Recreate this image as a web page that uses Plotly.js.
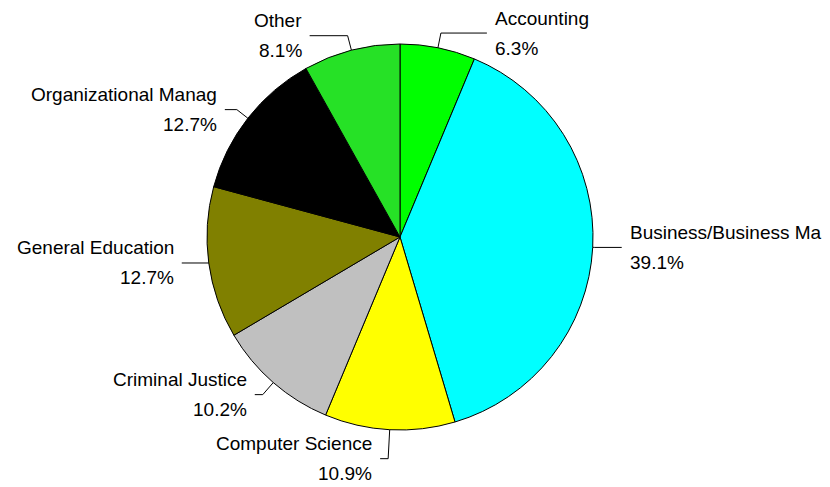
<!DOCTYPE html>
<html>
<head>
<meta charset="utf-8">
<script src="https://cdn.plot.ly/plotly-3.0.1.min.js"></script>
<style>html,body{margin:0;padding:0;background:#fff}#chart{width:830px;height:487px}</style>
</head>
<body>
<div id="chart"></div>
<script>
// Data
const categories = ["Accounting", "Business/Business Ma", "Computer Science", "Criminal Justice", "General Education", "Organizational Manag", "Other"];
const shares = [6.3, 39.1, 10.9, 10.2, 12.7, 12.7, 8.1];

// Styles (not data)
const colors = ["#00ff00", "#00ffff", "#ffff00", "#c0c0c0", "#808000", "#000000", "#00ff00"];
const patternShapes = ["", "", "", "", "", "", "."];
const leaderExt = [15, 2, 29, 16, 0, 14, 15];   // radial part of leader (px)
const leaderHor = [46, 27, 8, 8, 27, 12, 38];   // horizontal part of leader (px)

const W = 830, H = 487;
const cx = 400, cy = 237, R = 193;
const px = x => x / W;
const py = y => 1 - y / H;

const total = shares.reduce((a, b) => a + b, 0);
const shapes = [];
const annotations = [];
let cum = 0;
const font = {family: "Liberation Sans, Arial, sans-serif", size: 19, color: "#000"};
shares.forEach((v, i) => {
  const mid = (cum + v / 2) / total * 2 * Math.PI;
  cum += v;
  const s = Math.sin(mid), c = Math.cos(mid);
  const x0 = cx + R * s, y0 = cy - R * c;
  const x1 = cx + (R + leaderExt[i]) * s, y1 = cy - (R + leaderExt[i]) * c;
  const side = s >= 0 ? 1 : -1;
  const x2 = x1 + side * leaderHor[i], y2 = y1;
  shapes.push({
    type: "path", xref: "paper", yref: "paper",
    path: `M ${px(x0)},${py(y0)} L ${px(x1)},${py(y1)} L ${px(x2)},${py(y2)}`,
    line: {color: "#000", width: 1}
  });
  const tx = x2 + side * 6;
  const anchor = side > 0 ? "left" : "right";
  annotations.push({xref: "paper", yref: "paper", x: px(tx), y: py(y2 - 15), text: categories[i],
    showarrow: false, xanchor: anchor, yanchor: "middle", font: font});
  annotations.push({xref: "paper", yref: "paper", x: px(tx), y: py(y2 + 15),
    text: (v / total * 100).toFixed(1) + "%",
    showarrow: false, xanchor: anchor, yanchor: "middle", font: font});
});

const trace = {
  type: "pie",
  labels: categories,
  values: shares,
  sort: false,
  direction: "clockwise",
  rotation: 0,
  textinfo: "none",
  hoverinfo: "none",
  showlegend: false,
  domain: {x: [(cx - R) / W, (cx + R) / W], y: [1 - (cy + R) / H, 1 - (cy - R) / H]},
  marker: {
    colors: colors,
    line: {color: "#000", width: 1},
    pattern: {shape: patternShapes, fgcolor: "#55bb55", bgcolor: "#00ff00", size: 2, solidity: 0.5}
  }
};

Plotly.newPlot("chart", [trace], {
  width: W, height: H,
  margin: {l: 0, r: 0, t: 0, b: 0},
  paper_bgcolor: "#fff",
  shapes: shapes,
  annotations: annotations
}, {staticPlot: true});
</script>
</body>
</html>
